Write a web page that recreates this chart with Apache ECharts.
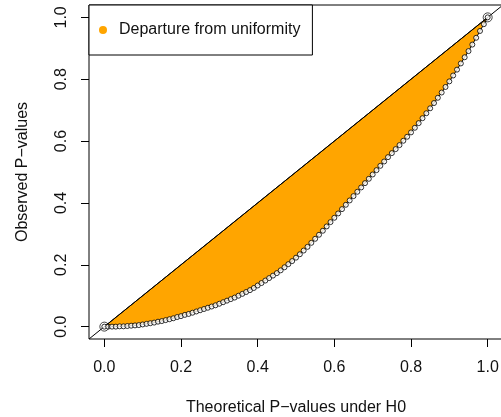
<!DOCTYPE html>
<html>
<head>
<meta charset="utf-8">
<script src="https://cdn.jsdelivr.net/npm/echarts@6/dist/echarts.min.js"></script>
<style>
  html, body { margin: 0; padding: 0; background: #fff; }
  #main { width: 501px; height: 417px; }
</style>
</head>
<body>
<div id="main"></div>
<script>
// theoretical p-values under H0 (x) and sorted observed p-values (y)
var theoP = [
  0.00,0.01,0.02,0.03,0.04,0.05,0.06,0.07,0.08,0.09,
  0.10,0.11,0.12,0.13,0.14,0.15,0.16,0.17,0.18,0.19,
  0.20,0.21,0.22,0.23,0.24,0.25,0.26,0.27,0.28,0.29,
  0.30,0.31,0.32,0.33,0.34,0.35,0.36,0.37,0.38,0.39,
  0.40,0.41,0.42,0.43,0.44,0.45,0.46,0.47,0.48,0.49,
  0.50,0.51,0.52,0.53,0.54,0.55,0.56,0.57,0.58,0.59,
  0.60,0.61,0.62,0.63,0.64,0.65,0.66,0.67,0.68,0.69,
  0.70,0.71,0.72,0.73,0.74,0.75,0.76,0.77,0.78,0.79,
  0.80,0.81,0.82,0.83,0.84,0.85,0.86,0.87,0.88,0.89,
  0.90,0.91,0.92,0.93,0.94,0.95,0.96,0.97,0.98,0.99,
  1.00
];
var obsP = [
  0.000,0.000,0.000,0.000,0.001,0.001,0.002,0.003,0.004,0.005,
  0.007,0.009,0.011,0.013,0.016,0.018,0.021,0.024,0.027,0.031,
  0.034,0.038,0.041,0.045,0.049,0.053,0.057,0.061,0.065,0.069,
  0.074,0.079,0.084,0.089,0.094,0.100,0.106,0.112,0.118,0.125,
  0.133,0.141,0.149,0.157,0.165,0.173,0.182,0.192,0.202,0.212,
  0.223,0.234,0.246,0.258,0.271,0.284,0.297,0.310,0.324,0.338,
  0.352,0.366,0.380,0.394,0.408,0.422,0.436,0.450,0.464,0.478,
  0.492,0.506,0.520,0.534,0.548,0.561,0.574,0.587,0.601,0.614,
  0.628,0.643,0.658,0.674,0.690,0.706,0.723,0.740,0.757,0.775,
  0.793,0.812,0.831,0.851,0.871,0.891,0.912,0.934,0.956,0.978,
  1.000
];
var tickVals = [0, 0.2, 0.4, 0.6, 0.8, 1.0];
var axisMin = -0.04, axisMax = 1.04;
var legendName = 'Departure from uniformity';

var chart = echarts.init(document.getElementById('main'));
var font = "'Liberation Sans', Arial, Helvetica, sans-serif";

var curve = [];
for (var i = 0; i < theoP.length; i++) curve.push([theoP[i], obsP[i]]);
var last = theoP.length - 1;
var ends = [[theoP[0], obsP[0]], [theoP[last], obsP[last]]];

function axisCommon(name) {
  return {
    type: 'value',
    min: axisMin,
    max: axisMax,
    splitLine: { show: false },
    axisLine: { show: false, onZero: false },
    axisTick: { show: true, customValues: tickVals, length: 8, lineStyle: { color: '#000', width: 1 } },
    axisLabel: {
      customValues: tickVals,
      formatter: function (v) { return v.toFixed(1); },
      color: '#111', fontSize: 16, fontFamily: font
    },
    name: name,
    nameLocation: 'middle',
    nameTextStyle: { color: '#111', fontSize: 16, fontFamily: font }
  };
}

var xAx = axisCommon('Theoretical P\u2212values under H0');
xAx.axisLabel.margin = 21;
xAx.nameGap = 61;
var yAx = axisCommon('Observed P\u2212values');
yAx.axisLabel.rotate = 90;
yAx.axisLabel.margin = 19;
yAx.nameGap = 58;

var option = {
  animation: false,
  backgroundColor: '#fff',
  grid: {
    left: 89, right: -2, top: 5, bottom: 78,
    outerBoundsMode: 'none',
    containLabel: false,
    show: true, borderColor: '#000', borderWidth: 1, backgroundColor: 'transparent'
  },
  xAxis: xAx,
  yAxis: yAx,
  legend: {
    left: 89, top: 5,
    padding: [17, 12, 17, 10],
    itemWidth: 22, itemHeight: 8, itemGap: 0,
    borderColor: '#000', borderWidth: 1, borderRadius: 0,
    backgroundColor: '#fff',
    selectedMode: false,
    textStyle: { color: '#111', fontSize: 16, fontFamily: font },
    data: [{ name: legendName, icon: 'circle', itemStyle: { color: '#FFA500', borderWidth: 0 } }]
  },
  series: [
    {
      name: legendName,
      type: 'custom',
      coordinateSystem: 'cartesian2d',
      clip: true,
      z: 1,
      itemStyle: { color: '#FFA500' },
      data: [0],
      renderItem: function (params, api) {
        var pts = [];
        for (var i = 0; i < curve.length; i++) pts.push(api.coord(curve[i]));
        // close back along the diagonal
        pts.push(api.coord([theoP[last], theoP[last]]));
        pts.push(api.coord([theoP[0], theoP[0]]));
        return {
          type: 'polygon',
          shape: { points: pts },
          style: { fill: '#FFA500', stroke: '#000', lineWidth: 1 }
        };
      }
    },
    {
      type: 'line',
      z: 2,
      symbol: 'none',
      silent: true,
      lineStyle: { color: '#000', width: 1 },
      data: [[axisMin, axisMin], [axisMax, axisMax]]
    },
    {
      type: 'scatter',
      z: 3,
      symbol: 'circle',
      symbolSize: 5,
      silent: true,
      itemStyle: { color: '#fff', borderColor: '#000', borderWidth: 1 },
      data: curve
    },
    {
      type: 'scatter',
      z: 4,
      symbol: 'circle',
      symbolSize: 9,
      silent: true,
      itemStyle: { color: 'rgba(0,0,0,0)', borderColor: '#000', borderWidth: 0.9 },
      data: ends
    }
  ]
};
chart.setOption(option);
</script>
</body>
</html>
